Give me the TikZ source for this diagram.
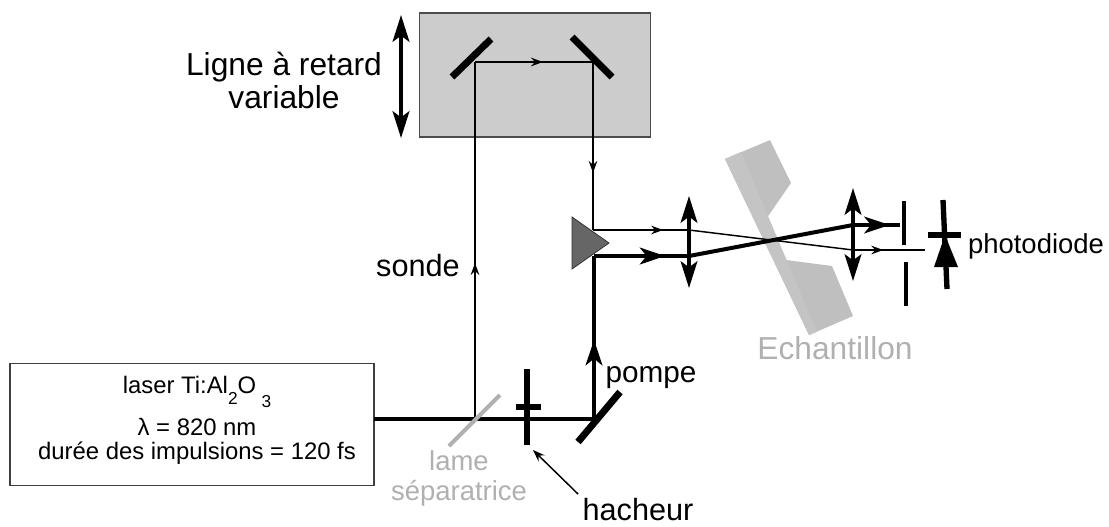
\documentclass[tikz,border=0pt]{standalone}
\usepackage{fontspec}
\setmainfont{Liberation Sans}
\usetikzlibrary{arrows.meta,decorations.markings}

\begin{document}
\begin{tikzpicture}[
  x=0.75pt, y=-0.75pt,
  lbl/.style={anchor=base, inner sep=0pt, font=\fontsize{#1}{#1}\selectfont},
  lbl/.default=23.8,
  grey/.style={text=black!31},
  mirror/.style={line width=5.2pt},
  bar/.style={line width=4.4pt},
  slit/.style={line width=3pt},
  thinbeam/.style={line width=1.1pt},
  thickbeam/.style={line width=3pt},
  thintip/.style={thinbeam, postaction=decorate, decoration={markings, mark=at position #1 with {\arrow{Stealth[length=9pt, width=6.5pt, inset=3pt]}}}},
  thicktip/.style={thickbeam, postaction=decorate, decoration={markings, mark=at position #1 with {\arrow{Stealth[length=19pt, width=12.5pt, inset=5pt]}}}},
  lens/.style={line width=2.6pt, {Stealth[length=20pt, width=12.5pt, inset=4.5pt]}-{Stealth[length=20pt, width=12.5pt, inset=4.5pt]}}
]
  \useasboundingbox (0,0) rectangle (1109,526);

  % delay line
  \node[draw=black!70, fill=black!20, line width=0.9pt, minimum width=173pt, minimum height=93pt, inner sep=0pt] (delay) at (535,75) {};
  \draw[mirror] (452,77) -- (491,39);
  \draw[mirror] (572,37) -- (612,77);
  \draw[lens, line width=3pt] (401,15) -- (401,138);
  \node[lbl] (ligne) at (284,75) {Ligne à retard};
  \node[lbl] (variable) at (284,108) {variable};

  % sample
  \fill[black!25] (725,159) -- (770,140) -- (791,183) -- (766,219) -- (786,260) -- (832,266) -- (853,316) -- (809,335) -- cycle;
  \fill[black!23] (725,159) -- (741,152) -- (817,332) -- (809,335) -- cycle;
  \node[lbl, grey] (echantillon) at (835,359) {Echantillon};

  % laser
  \node[draw=black!75, line width=0.9pt, minimum width=273pt, minimum height=92pt, inner sep=0pt] (laser) at (192,424.5) {};
  \node[lbl=17.9] (lasertitle) at (197,393) {laser Ti:Al\raisebox{-8.5pt}{\fontsize{13}{13}\selectfont 2}O\hspace{4pt}\raisebox{-11pt}{\fontsize{13}{13}\selectfont 3}};
  \node[lbl=17.9] (laserlambda) at (197,435) {λ = 820 nm};
  \node[lbl=17.9] (laserpulse) at (197,459) {durée des impulsions = 120 fs};

  % beam points
  \coordinate (laserout) at (374,419);
  \coordinate (split) at (475,419);
  \coordinate (turn) at (594,419);
  \coordinate (topleft) at (475,62);
  \coordinate (topright) at (593,62);
  \coordinate (prismprobe) at (593,230);
  \coordinate (prismpump) at (594,256);
  \coordinate (probelensa) at (689,230);
  \coordinate (pumplensa) at (689,256);
  \coordinate (probelensb) at (853,250);
  \coordinate (pumplensb) at (853,225);
  \coordinate (probeend) at (925,250);
  \coordinate (pumpend) at (900,225);

  % pump
  \draw[thickbeam] (laserout) -- (turn);
  \draw[thicktip=0.485] (turn) -- (prismpump);
  \draw[thicktip=0.75] (prismpump) -- (pumplensa);
  \draw[thickbeam] (pumplensa) -- (pumplensb);
  \draw[thicktip=0.78] (pumplensb) -- (pumpend);

  % probe
  \draw[thintip=0.437] (split) -- (topleft);
  \draw[thintip=0.576] (topleft) -- (topright);
  \draw[thintip=0.66] (topright) -- (prismprobe);
  \draw[thintip=0.73] (prismprobe) -- (probelensa);
  \draw[thinbeam] (probelensa) -- (probelensb);
  \draw[thintip=0.42] (probelensb) -- (probeend);

  % optics
  \draw[draw=black!80, fill=black!60, line width=0.6pt] (572,217) -- (609,243) -- (572,269) -- cycle;
  \draw[lens] (689,196) -- (689,288);
  \draw[lens] (853,188) -- (853,281);
  \draw[slit] (904,201) -- (904,245);
  \draw[slit] (906,262) -- (906,306);
  \draw[line width=4pt] (943,200) -- (947,289);
  \draw[bar] (928,235) -- (961,235);
  \fill (945,235) -- (958,267) -- (934,267) -- cycle;
  \node[lbl=20.6] (photodiode) at (1036,253) {photodiode};

  % bottom
  \draw[line width=3pt, black!31] (449,446) -- (500,395);
  \draw[bar] (527,369) -- (527,445);
  \draw[bar] (516,407) -- (541,407);
  \draw[mirror] (578,442) -- (620,392);
  \node[lbl=20.6, grey] (lame) at (459,470) {lame};
  \node[lbl=20.6, grey] (separatrice) at (459,500) {séparatrice};
  \node[lbl=23] (sonde) at (418,276) {sonde};
  \node[lbl=22.3] (pompe) at (651,382) {pompe};
  \node[lbl=23] (hacheur) at (638,520) {hacheur};
  \coordinate (hacheurtail) at (578,494);
  \coordinate (hacheurtip) at (533,450);
  \draw[line width=1.1pt, -{Stealth[length=9pt, width=6.5pt, inset=3pt]}] (hacheurtail) -- (hacheurtip);
\end{tikzpicture}
\end{document}
